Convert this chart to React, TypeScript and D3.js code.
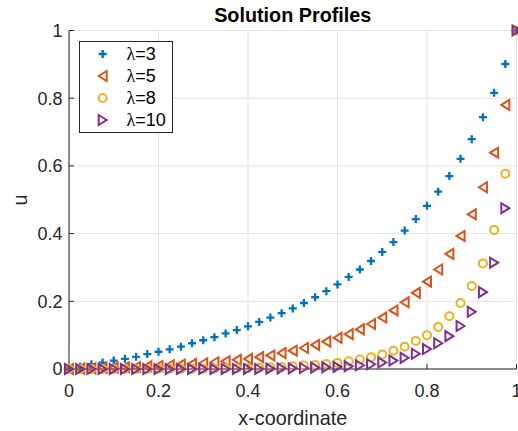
import React, { useEffect, useRef } from 'react'
import { select, scaleLinear } from 'd3'

// x grid of the solution (41 nodes)
const xs = [0, 0.025, 0.05, 0.075, 0.1, 0.125, 0.15, 0.175, 0.2, 0.225, 0.25, 0.275, 0.3, 0.325, 0.35, 0.375,
  0.4, 0.425, 0.45, 0.475, 0.5, 0.525, 0.55, 0.575, 0.6, 0.625, 0.65, 0.675, 0.7, 0.725, 0.75, 0.775,
  0.8, 0.825, 0.85, 0.875, 0.9, 0.925, 0.95, 0.975, 1]

const u3 = [0, 0.007, 0.014, 0.019, 0.025, 0.030, 0.036, 0.044, 0.051, 0.058, 0.066, 0.076, 0.085, 0.094, 0.105, 0.115,
  0.126, 0.139, 0.152, 0.165, 0.179, 0.195, 0.212, 0.230, 0.250, 0.272, 0.294, 0.319, 0.346, 0.375, 0.409, 0.443,
  0.482, 0.524, 0.570, 0.621, 0.679, 0.744, 0.816, 0.901, 1]
const u5 = [0, 0.001, 0.002, 0.003, 0.004, 0.005, 0.006, 0.008, 0.009, 0.011, 0.013, 0.015, 0.017, 0.020, 0.023, 0.027,
  0.030, 0.035, 0.040, 0.047, 0.054, 0.062, 0.071, 0.081, 0.092, 0.103, 0.117, 0.133, 0.152, 0.173, 0.197, 0.225,
  0.258, 0.294, 0.340, 0.393, 0.457, 0.537, 0.639, 0.780, 1]
const u8 = [0, 0, 0, 0, 0, 0, 0, 0, 0.001, 0.001, 0.001, 0.001, 0.001, 0.001, 0.002, 0.002,
  0.003, 0.004, 0.005, 0.006, 0.008, 0.010, 0.012, 0.015, 0.018, 0.023, 0.028, 0.035, 0.043, 0.054, 0.066, 0.083,
  0.100, 0.124, 0.156, 0.195, 0.245, 0.312, 0.411, 0.577, 1]
const u10 = [0, 0, 0, 0, 0, 0, 0, 0, 0, 0, 0, 0, 0, 0, 0, 0,
  0, 0, 0.001, 0.002, 0.002, 0.003, 0.004, 0.005, 0.006, 0.008, 0.011, 0.014, 0.019, 0.025, 0.033, 0.045,
  0.059, 0.076, 0.097, 0.127, 0.169, 0.227, 0.314, 0.475, 1]

const seriesNames = ['3', '5', '8', '10']
const seriesValues = [u3, u5, u8, u10]
const seriesColors = ['#0072BD', '#D95319', '#EDB120', '#7E2F8E']
const seriesMarkers = ['plus', 'left', 'circle', 'right']

const xTicks = [0, 0.2, 0.4, 0.6, 0.8, 1]
const yTicks = [0, 0.2, 0.4, 0.6, 0.8, 1]
const tickLabels = ['0', '0.2', '0.4', '0.6', '0.8', '1']

const W = 518
const H = 431
const FONT = 'Liberation Sans, Arial, Helvetica, sans-serif'
const INK = '#262626'

function drawMarker(g: any, kind: string, color: string) {
  if (kind === 'plus') {
    g.append('path').attr('d', 'M-4,0H4M0,-4V4')
      .attr('stroke', color).attr('stroke-width', 2.3).attr('fill', 'none')
  } else if (kind === 'circle') {
    g.append('circle').attr('r', 4)
      .attr('stroke', color).attr('stroke-width', 2).attr('fill', 'none')
  } else if (kind === 'left') {
    g.append('path').attr('d', 'M-4,0L4,-5L4,5Z')
      .attr('stroke', color).attr('stroke-width', 2).attr('fill', 'none')
  } else {
    g.append('path').attr('d', 'M4,0L-4,-5L-4,5Z')
      .attr('stroke', color).attr('stroke-width', 2).attr('fill', 'none')
  }
}

export default function App() {
  const ref = useRef<SVGSVGElement | null>(null)

  useEffect(() => {
    const svg = select(ref.current)
    svg.selectAll('*').remove()

    const x = scaleLinear().domain([0, 1]).range([69, 516.5])
    const y = scaleLinear().domain([0, 1]).range([369, 30.5])

    svg.append('rect').attr('width', W).attr('height', H).attr('fill', '#fff')

    // grid
    const grid = svg.append('g').attr('stroke', '#e3e3e3').attr('stroke-width', 1)
    xTicks.forEach(t => {
      grid.append('line').attr('x1', x(t)).attr('x2', x(t)).attr('y1', y(0)).attr('y2', y(1))
    })
    yTicks.forEach(t => {
      grid.append('line').attr('x1', x(0)).attr('x2', x(1)).attr('y1', y(t)).attr('y2', y(t))
    })

    // axes (box off, ticks inward)
    const axes = svg.append('g').attr('stroke', INK).attr('stroke-width', 1)
    axes.append('line').attr('x1', x(0)).attr('x2', x(0)).attr('y1', y(1)).attr('y2', y(0))
    axes.append('line').attr('x1', x(0)).attr('x2', x(1)).attr('y1', y(0)).attr('y2', y(0))
    xTicks.forEach(t => {
      axes.append('line').attr('x1', x(t)).attr('x2', x(t)).attr('y1', y(0)).attr('y2', y(0) - 5)
    })
    yTicks.forEach(t => {
      axes.append('line').attr('x1', x(0)).attr('x2', x(0) + 5).attr('y1', y(t)).attr('y2', y(t))
    })

    const labels = svg.append('g').attr('font-family', FONT).attr('fill', INK)
    xTicks.forEach((t, i) => {
      labels.append('text').attr('x', x(t)).attr('y', 397).attr('font-size', 18)
        .attr('text-anchor', 'middle').text(tickLabels[i])
    })
    yTicks.forEach((t, i) => {
      labels.append('text').attr('x', 62.5).attr('y', y(t)).attr('dy', '0.36em').attr('font-size', 18)
        .attr('text-anchor', 'end').text(tickLabels[i])
    })
    labels.append('text').attr('x', (x(0) + x(1)) / 2).attr('y', 425).attr('font-size', 19.8)
      .attr('text-anchor', 'middle').text('x-coordinate')
    labels.append('text').attr('transform', 'translate(27,200) rotate(-90)').attr('font-size', 19.8)
      .attr('text-anchor', 'middle').text('u')
    labels.append('text').attr('x', (x(0) + x(1)) / 2).attr('y', 22).attr('font-size', 19.8)
      .attr('font-weight', 'bold').attr('fill', '#000').attr('text-anchor', 'middle').text('Solution Profiles')

    // series markers
    seriesValues.forEach((vals, s) => {
      const sg = svg.append('g')
      vals.forEach((v, i) => {
        const mg = sg.append('g').attr('transform', 'translate(' + x(xs[i]) + ',' + y(v) + ')')
        drawMarker(mg, seriesMarkers[s], seriesColors[s])
      })
    })

    // legend
    const lg = svg.append('g')
    lg.append('rect').attr('x', 79.5).attr('y', 41.5).attr('width', 93).attr('height', 91)
      .attr('fill', '#fff').attr('stroke', INK).attr('stroke-width', 1)
    seriesNames.forEach((name, i) => {
      const cy = 54 + i * 22
      const mg = lg.append('g').attr('transform', 'translate(102.7,' + cy + ')')
      drawMarker(mg, seriesMarkers[i], seriesColors[i])
      const t = lg.append('text').attr('x', 126.5).attr('y', cy).attr('dy', '0.36em')
        .attr('font-family', FONT).attr('font-size', 18).attr('fill', '#000')
      t.append('tspan').attr('font-family', 'Liberation Serif, serif').text('λ')
      t.append('tspan').text('=' + name)
    })
  }, [])

  return (
    <svg ref={ref} width={W} height={H}
      style={{ position: 'absolute', left: 0, top: 0, display: 'block' }} />
  )
}
